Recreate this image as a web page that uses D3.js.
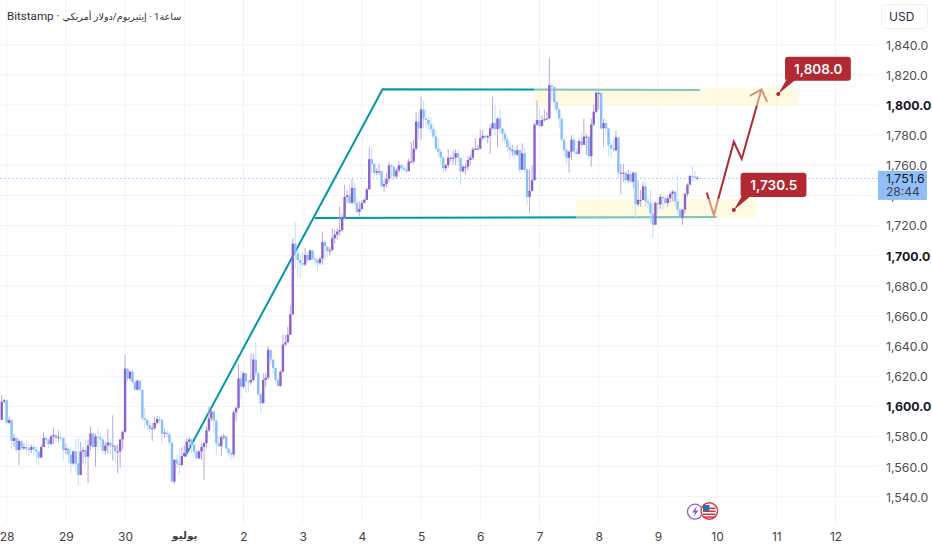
<!DOCTYPE html>
<html>
<head>
<meta charset="utf-8">
<script src="https://cdnjs.cloudflare.com/ajax/libs/d3/7.8.5/d3.min.js"></script>
<style>
html, body { margin: 0; padding: 0; background: #fff; }
svg { display: block; }
text { font-family: Inter, "DejaVu Sans", sans-serif; }
</style>
</head>
<body>
<div id="chart"></div>
<script>
// hourly candles, index 0 = midnight on the 28th, so 24 candles make one day
var firstIndex = -2;
var firstOpen = 1591;

var closes = [
  1603,1604,
  // 28
  1589,1591,1577,1579,1571,1577,1572,1573,1572,1571,1573,1571.5,1570,1566,1573,1579,1578,1575,1580,1581,1579,1579.5,1579,1571,
  // 29
  1572,1568,1562,1570,1562,1554.5,1570,1571,1566.5,1574,1582,1573,1580,1579.5,1578,1570.5,1574,1576,1574,1574,1570,1570,1578,1583,
  // 30
  1625,1618.5,1623,1616,1611,1617,1611,1592,1591,1587.5,1585,1585.5,1589,1591.5,1591,1582,1582.5,1581.5,1576,1550,1564.5,1562,1561,1567,
  // 1
  1569,1576.5,1578,1574.5,1570,1565.5,1570,1573,1575.5,1584,1592,1596.5,1590.5,1575.5,1573.5,1579.5,1580,1572,1569,1568,1596,1599,1618.5,1613,
  // 2
  1622,1616.5,1616,1617.5,1631,1622,1608,1602,1617.5,1619,1637.5,1631,1625.5,1617.5,1613.5,1623,1641,1642.5,1647.5,1661,1708,1701.5,1697,1695,
  // 3
  1694,1700.5,1697,1703.5,1698,1697,1695,1698,1709,1706,1703,1703.5,1711.5,1714,1716,1717,1725,1739,1740,1735,1745,1735,1729,1731,
  // 4
  1735,1737,1744,1764,1761,1755,1756,1756,1746,1747.5,1751,1760,1759,1752.5,1756.5,1760,1758,1757,1756,1762.5,1762.5,1771,1789,1784.5,
  // 5
  1797,1791,1790,1787,1784,1779,1771,1769,1765,1758,1760,1765,1765,1765,1768,1765,1756,1759,1759,1763.5,1765,1770.5,1771,1771,
  // 6
  1778,1779.5,1778.5,1779.5,1784.5,1788,1784,1791,1784.5,1781,1777,1772,1770,1770,1767,1770,1757,1768,1757,1739,1743,1750,1787,1790,
  // 7
  1786,1790,1790.5,1791,1813,1812,1802,1797,1791,1777,1770,1765,1769,1777,1769,1767.5,1776,1773.5,1779,1779,1766,1787,1795.5,1808,
  // 8
  1808,1784.5,1788,1784.5,1773.5,1771,1770,1778.5,1755,1755,1755,1750,1754,1749,1755,1734,1737,1737,1746,1736,1735,1728,1720.5,1735,
  // 9
  1734,1739,1738,1735,1738,1741,1742.5,1736,1730.5,1725,1730.5,1741,1747,1753,1752.5,1751.5,1751.6
];

var highs = [
  1607.5,1605,
  // 28
  1605,1593,1591,1582,1578.5,1578,1577,1575.5,1576.5,1575.5,1574.5,1575,1574,1570,1574.5,1582.5,1580,1578,1581,1586,1582,1584,1582.5,1579,
  // 29
  1575.5,1573,1573,1571,1578,1579,1576.5,1573,1578,1578,1586.5,1582,1582,1585.5,1582,1579,1576.5,1585,1579,1594,1574.5,1574.5,1578,1584,
  // 30
  1634,1625,1623.5,1624,1617.5,1618,1611.5,1611,1599,1592,1590,1589,1593,1593.5,1593.5,1591,1585,1584,1583,1575.5,1565,1568,1572,1573,
  // 1
  1574,1579,1580,1579,1575.5,1571,1571,1575.5,1576.5,1586.5,1600,1598.5,1597,1591,1580,1581,1582,1581,1572,1570,1597.5,1600,1628,1624,
  // 2
  1623,1622,1617.5,1635,1635,1643,1623,1609,1622,1622,1640,1637.5,1631,1625.5,1619,1624,1647.5,1647.5,1653,1667,1711.5,1722,1702.5,1701.5,
  // 3
  1702.5,1705,1702.5,1704,1703.5,1699,1698,1699,1716,1710.5,1706,1705.5,1718,1717,1718,1732.5,1728,1747,1743.5,1747,1751,1749,1739,1736,
  // 4
  1737,1738,1745,1772,1773,1761,1758,1761,1757,1750,1755,1762,1761,1759,1758,1762.5,1761,1760,1759,1764.5,1775.5,1777,1795.5,1795.5,
  // 5
  1805.5,1803,1797,1792,1792,1787,1783.5,1778,1771,1766,1761,1770.5,1766,1770,1770.5,1770.5,1765,1760,1761,1766,1767,1772,1778,1773.5,
  // 6
  1783.5,1783.5,1780,1780,1787,1805.5,1800,1792,1797,1784.5,1783.5,1779,1775.5,1773.5,1772,1773.5,1770,1774.5,1772,1758,1757,1760,1788,1803,
  // 7
  1797,1793,1797,1795.5,1831,1815,1809,1803,1798,1791,1778,1772,1770,1780,1778,1771,1778,1782,1791,1781,1779,1791,1800,1809,
  // 8
  1809,1809,1791,1790.5,1783.5,1777,1777,1783,1778.5,1761,1761,1756,1757,1757,1756,1756,1750,1743.5,1749,1749,1739,1743.5,1736,1736,
  // 9
  1738,1741,1740,1739,1740,1742.5,1743.5,1742.5,1753.5,1731.5,1731,1741.5,1748,1753,1759.5,1756.5,1753
];

var lows = [
  1591,1602,
  // 28
  1587.5,1588,1571.5,1573,1570,1561,1570.5,1571,1569,1567,1569,1567,1563,1561,1565.5,1573,1574.5,1572,1574,1575,1576,1576,1577,1564.5,
  // 29
  1568,1562,1555.5,1561,1556.5,1547.5,1554,1562,1560.5,1549,1571,1572,1560,1571,1573,1568.5,1568,1568.5,1568,1564,1563,1555.5,1559,1571.5,
  // 30
  1582.5,1616,1617,1615,1610.5,1610.5,1610,1591,1585.5,1584,1583,1577,1584,1588,1589,1574.5,1579,1579.5,1574,1549,1548,1559.5,1555,1560,
  // 1
  1566.5,1568,1572,1569,1567.5,1565,1564.5,1564.5,1551,1572,1583,1590,1582,1568,1573,1567,1578,1570,1566.5,1564.5,1566,1590,1598,1605,
  // 2
  1612,1609,1609,1614,1616.5,1620,1607,1596,1602,1613,1617.5,1628.5,1622,1615.5,1613,1613,1622,1640,1642,1647.5,1661,1691.5,1686,1685,
  // 3
  1693,1693,1695,1697,1697,1693,1690,1694,1694,1697,1699,1700,1704,1708,1710.5,1713,1716,1724,1735,1734,1734,1732.5,1728,1726,
  // 4
  1730.5,1735,1737,1744,1755,1752.5,1753.5,1753.5,1745,1742.5,1745,1749,1751,1750,1751,1755,1756,1755,1754,1756,1761,1761,1770,1777,
  // 5
  1777,1784.5,1784.5,1783.5,1781,1778,1770,1766,1760,1755,1756,1758,1762.5,1760,1760,1760,1747,1755,1754,1757,1760,1763.5,1770,1770,
  // 6
  1770.5,1776.5,1776.5,1774.5,1767.5,1783.5,1779.5,1772,1781,1775.5,1774.5,1769,1763.5,1766,1764.5,1766,1755,1757,1755,1733.5,1728,1742.5,1750,1786,
  // 7
  1785,1785.5,1789,1790,1791,1803,1797,1794.5,1784.5,1775.5,1766,1761,1755,1763.5,1766,1767,1767.5,1771,1773.5,1767,1763.5,1759,1785.5,1794.5,
  // 8
  1797,1783.5,1772,1781,1766,1764.5,1769,1769,1751,1741,1749,1748,1748,1748,1745,1724,1732.5,1732.5,1737,1732.5,1730.5,1721.5,1711.5,1720.5,
  // 9
  1728,1731,1730.5,1734,1732.5,1735,1736,1732.5,1727,1724,1720.5,1728,1739,1747,1749,1749,1750
];

var dayTicks = [0,24,48,72,96,120,144,168,192,216,240,264,288,312,336];
var dayLabels = ["28","29","30","يوليو","2","3","4","5","6","7","8","9","10","11","12"];
var priceTicks = d3.range(1540, 1841, 20);
var lastPrice = 1751.6;
var countdown = "28:44";

// drawings on the chart, as [candle index, price]
var risingLine = [[72.3,1566.6],[152.4,1810.4],[281,1810]];
var baseLine = [[125,1725],[287.8,1725.7]];
var moveLine = [[283.8,1741.8],[286.7,1727],[294.8,1775.6],[298,1764.2],[306,1810.4]];
var arrowHead = [[301.3,1806],[306,1810.4],[308.3,1802]];
var zones = [[213.8,320.8,1811.3,1799.5],[230.7,303.7,1737.6,1725]];
var targets = [[312.8,1807.3],[294.8,1730.3]];
var targetLabels = ["1,808.0","1,730.5"];

var width = 932, height = 550, plotRight = 878, plotBottom = 523;

var x = d3.scaleLinear().domain([0, 24]).range([6.67, 65.87]);
var y = d3.scaleLinear().domain([1540, 1840]).range([496.7, 44.7]);

var upBody = "#8a62cc", upWick = "#bba7e3", downBody = "#88bffa", downWick = "#c3dffb";
var teal = "#0097a7", red = "#b22833";

var candles = closes.map(function(c, i) {
    return {
	index: firstIndex + i,
	open: i == 0 ? firstOpen : closes[i-1],
	close: c,
	high: highs[i],
	low: lows[i]
    };
});

var svg = d3.select("#chart").append("svg")
    .attr("width", width)
    .attr("height", height);

// Grid
svg.append("g")
    .selectAll("line")
    .data(priceTicks)
    .enter().append("line")
    .attr("x1", 0)
    .attr("x2", plotRight)
    .attr("y1", function(d) { return y(d); })
    .attr("y2", function(d) { return y(d); })
    .style("stroke", "#f3f3f5");
svg.append("g")
    .selectAll("line")
    .data(dayTicks)
    .enter().append("line")
    .attr("x1", function(d) { return x(d); })
    .attr("x2", function(d) { return x(d); })
    .attr("y1", 0)
    .attr("y2", plotBottom)
    .style("stroke", "#f3f3f5");

// Last price line
svg.append("line")
    .attr("x1", 0)
    .attr("x2", plotRight)
    .attr("y1", y(lastPrice) + 0.5)
    .attr("y2", y(lastPrice) + 0.5)
    .style("stroke", "#90c4fa")
    .style("stroke-width", 1)
    .style("stroke-dasharray", "1.5 2.5");

// Trend lines, they sit under the zones so they get paler in there
var line = d3.line()
    .x(function(d) { return x(d[0]); })
    .y(function(d) { return y(d[1]); });

[risingLine, baseLine].forEach(function(pts) {
    svg.append("path")
	.attr("d", line(pts))
	.style("fill", "none")
	.style("stroke", teal)
	.style("stroke-width", 2);
});
[moveLine, arrowHead].forEach(function(pts) {
    svg.append("path")
	.attr("d", line(pts))
	.style("fill", "none")
	.style("stroke", red)
	.style("stroke-width", 2);
});

// Zones
svg.append("g")
    .selectAll("rect")
    .data(zones)
    .enter().append("rect")
    .attr("x", function(d) { return x(d[0]); })
    .attr("width", function(d) { return x(d[1]) - x(d[0]); })
    .attr("y", function(d) { return y(d[2]); })
    .attr("height", function(d) { return y(d[3]) - y(d[2]); })
    .style("fill", "#fff8c8")
    .style("fill-opacity", 0.5);

// Candles
var candle = svg.append("g")
    .selectAll("g")
    .data(candles)
    .enter().append("g");
candle.append("line")
    .attr("x1", function(d) { return x(d.index); })
    .attr("x2", function(d) { return x(d.index); })
    .attr("y1", function(d) { return y(d.high); })
    .attr("y2", function(d) { return y(d.low); })
    .style("stroke-width", 1)
    .style("stroke", function(d) { return d.close >= d.open ? upWick : downWick; });
candle.append("rect")
    .attr("x", function(d) { return x(d.index) - 1.2; })
    .attr("width", 2.4)
    .attr("y", function(d) { return y(Math.max(d.open, d.close)); })
    .attr("height", function(d) { return Math.max(1, Math.abs(y(d.open) - y(d.close))); })
    .style("fill", function(d) { return d.close >= d.open ? upBody : downBody; });

// Target callouts
var callout = svg.append("g")
    .selectAll("g")
    .data(targets)
    .enter().append("g")
    .attr("transform", function(d) { return "translate(" + x(d[0]) + "," + y(d[1]) + ")"; });
callout.append("rect")
    .attr("x", 6.8)
    .attr("y", -37.3)
    .attr("width", 65.8)
    .attr("height", 24.2)
    .attr("rx", 3)
    .style("fill", red);
callout.append("path")
    .attr("d", "M0,0 L8,-14 L17,-14 Z")
    .style("fill", red);
callout.append("circle")
    .attr("r", 2)
    .style("fill", red);
callout.append("text")
    .text(function(d, i) { return targetLabels[i]; })
    .attr("x", 40)
    .attr("y", -20.2)
    .attr("text-anchor", "middle")
    .style("fill", "#fff")
    .style("font-size", "13.5px")
    .style("font-weight", 600);

// Price axis
var priceAxis = d3.axisRight(y)
    .tickValues(priceTicks)
    .tickSize(0)
    .tickPadding(0)
    .tickFormat(d3.format(",.1f"));
var priceG = svg.append("g")
    .attr("transform", "translate(886,0.5)")
    .call(priceAxis);
priceG.select(".domain").remove();
priceG.selectAll("text")
    .style("font-family", "Inter, sans-serif")
    .style("font-size", "12.3px")
    .style("fill", function(d) { return d == 1800 || d == 1700 || d == 1600 ? "#131722" : "#4e4e52"; })
    .style("font-weight", function(d) { return d == 1800 || d == 1700 || d == 1600 ? 700 : 400; });

// Last price tag
svg.append("rect")
    .attr("x", 878)
    .attr("y", y(lastPrice) - 7)
    .attr("width", 49)
    .attr("height", 29)
    .style("fill", "#90bef8");
svg.append("text")
    .text(d3.format(",.1f")(lastPrice))
    .attr("x", 886)
    .attr("y", y(lastPrice) + 5)
    .style("font-size", "12.3px")
    .style("fill", "#131722");
svg.append("text")
    .text(countdown)
    .attr("x", 886)
    .attr("y", y(lastPrice) + 18.5)
    .style("font-size", "12px")
    .style("fill", "#3c3f4a");

// USD button
svg.append("rect")
    .attr("x", 881.5)
    .attr("y", 4.5)
    .attr("width", 46)
    .attr("height", 24)
    .attr("rx", 4)
    .style("fill", "#fff")
    .style("stroke", "#eeeeef");
svg.append("text")
    .text("USD")
    .attr("x", 889)
    .attr("y", 20.5)
    .style("font-size", "12px")
    .style("fill", "#2a2e39");

// Day axis
var dayAxis = d3.axisBottom(x)
    .tickValues(dayTicks)
    .tickSize(0)
    .tickPadding(0)
    .tickFormat(function(d, i) { return dayLabels[i]; });
var dayG = svg.append("g")
    .attr("transform", "translate(0,532)")
    .call(dayAxis);
dayG.select(".domain").remove();
dayG.selectAll("text")
    .style("font-family", "Inter, 'DejaVu Sans', sans-serif")
    .style("font-size", function(d) { return d == 72 ? "10.5px" : "12px"; })
    .style("fill", "#3f3f44")
    .style("font-weight", function(d) { return d == 72 ? 700 : 400; });

// Title, the marks keep the three parts in left to right order
var title = svg.append("text")
    .attr("x", 7)
    .attr("y", 20)
    .attr("direction", "ltr")
    .style("font-family", "Roboto, 'DejaVu Sans', sans-serif")
    .style("font-size", "11.6px")
    .style("fill", "#2a2e39");
title.append("tspan").text("Bitstamp · ");
title.append("tspan")
    .style("font-size", "9.6px")
    .text("إيثيريوم/دولار أمريكي\u200E · \u200Eساعة1");

// Event icons on the day 10 line
var icons = svg.append("g");
icons.append("circle")
    .attr("cx", 695)
    .attr("cy", 511.7)
    .attr("r", 7.5)
    .style("fill", "#fff")
    .style("stroke", "#8e5fd0")
    .style("stroke-width", 1.3);
icons.append("path")
    .attr("d", "M697,506 L692,512.5 L695,512.5 L693.5,517 L698.5,510.5 L695.5,510.5 Z")
    .style("fill", "#8e5fd0");
icons.append("circle")
    .attr("cx", 709.3)
    .attr("cy", 511)
    .attr("r", 8.3)
    .style("fill", "#fff")
    .style("stroke", "#d5343f")
    .style("stroke-width", 1.4);
[507.5,510.5,513.5,516.3].forEach(function(sy) {
    icons.append("rect")
	.attr("x", 703)
	.attr("y", sy)
	.attr("width", 12.6)
	.attr("height", 1.5)
	.style("fill", "#d5343f");
});
icons.append("rect")
    .attr("x", 703)
    .attr("y", 505)
    .attr("width", 6.5)
    .attr("height", 6)
    .style("fill", "#2f6fb7");
</script>
</body>
</html>
